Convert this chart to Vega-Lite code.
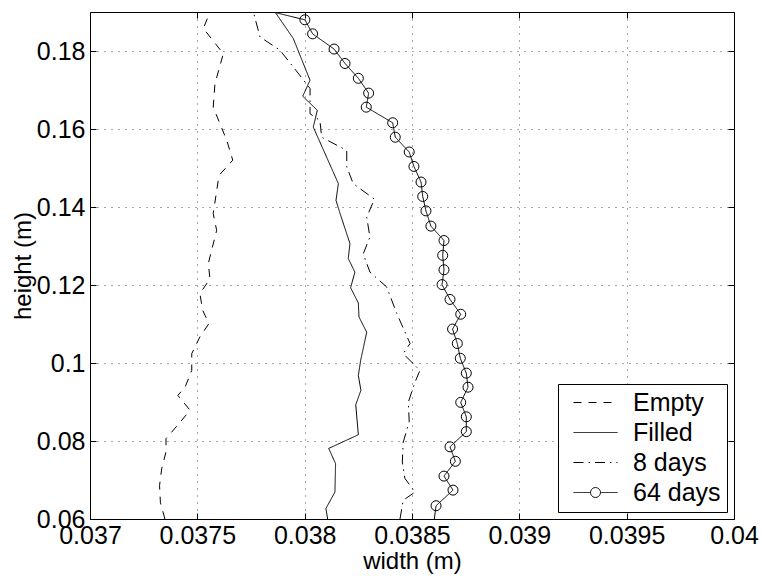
{
  "$schema": "https://vega.github.io/schema/vega-lite/v6.json",
  "autosize": {"type": "none"},
  "padding": {"left": 90, "top": 12, "right": 28, "bottom": 61},
  "width": 644,
  "height": 507,
  "background": "white",
  "config": {
    "view": {"stroke": "black", "strokeWidth": 1},
    "font": "Liberation Sans",
    "axis": {
      "labelFont": "Liberation Sans",
      "labelFontSize": 25,
      "labelColor": "black",
      "titleFont": "Liberation Sans",
      "titleFontSize": 24,
      "titleFontWeight": "normal",
      "titleColor": "black",
      "domain": false,
      "tickColor": "black",
      "gridColor": "black",
      "gridOpacity": 0.7,
      "gridDash": [1, 6],
      "gridWidth": 1
    }
  },
  "data": {
    "values": [
      {"series": "Empty", "h": 0.19, "w": 0.037559, "m": false},
      {"series": "Empty", "h": 0.1858, "w": 0.037528, "m": false},
      {"series": "Empty", "h": 0.1793, "w": 0.037621, "m": false},
      {"series": "Empty", "h": 0.1716, "w": 0.037582, "m": false},
      {"series": "Empty", "h": 0.1656, "w": 0.037574, "m": false},
      {"series": "Empty", "h": 0.1571, "w": 0.037637, "m": false},
      {"series": "Empty", "h": 0.152, "w": 0.037665, "m": false},
      {"series": "Empty", "h": 0.1481, "w": 0.037601, "m": false},
      {"series": "Empty", "h": 0.1383, "w": 0.037574, "m": false},
      {"series": "Empty", "h": 0.134, "w": 0.03759, "m": false},
      {"series": "Empty", "h": 0.1255, "w": 0.037551, "m": false},
      {"series": "Empty", "h": 0.1216, "w": 0.037559, "m": false},
      {"series": "Empty", "h": 0.1178, "w": 0.037512, "m": false},
      {"series": "Empty", "h": 0.1135, "w": 0.037525, "m": false},
      {"series": "Empty", "h": 0.1101, "w": 0.037554, "m": false},
      {"series": "Empty", "h": 0.1067, "w": 0.037512, "m": false},
      {"series": "Empty", "h": 0.1024, "w": 0.037474, "m": false},
      {"series": "Empty", "h": 0.0981, "w": 0.037474, "m": false},
      {"series": "Empty", "h": 0.0938, "w": 0.037443, "m": false},
      {"series": "Empty", "h": 0.0917, "w": 0.037409, "m": false},
      {"series": "Empty", "h": 0.0879, "w": 0.037466, "m": false},
      {"series": "Empty", "h": 0.0845, "w": 0.037415, "m": false},
      {"series": "Empty", "h": 0.0806, "w": 0.037354, "m": false},
      {"series": "Empty", "h": 0.0772, "w": 0.037354, "m": false},
      {"series": "Empty", "h": 0.0729, "w": 0.037334, "m": false},
      {"series": "Empty", "h": 0.0686, "w": 0.037324, "m": false},
      {"series": "Empty", "h": 0.0642, "w": 0.037328, "m": false},
      {"series": "Empty", "h": 0.06, "w": 0.037349, "m": false},

      {"series": "Filled", "h": 0.19, "w": 0.037862, "m": false},
      {"series": "Filled", "h": 0.1832, "w": 0.037947, "m": false},
      {"series": "Filled", "h": 0.1725, "w": 0.038025, "m": false},
      {"series": "Filled", "h": 0.1684, "w": 0.037991, "m": false},
      {"series": "Filled", "h": 0.1648, "w": 0.038059, "m": false},
      {"series": "Filled", "h": 0.1605, "w": 0.03804, "m": false},
      {"series": "Filled", "h": 0.146, "w": 0.038157, "m": false},
      {"series": "Filled", "h": 0.1417, "w": 0.038146, "m": false},
      {"series": "Filled", "h": 0.1383, "w": 0.038165, "m": false},
      {"series": "Filled", "h": 0.1306, "w": 0.038211, "m": false},
      {"series": "Filled", "h": 0.1268, "w": 0.038203, "m": false},
      {"series": "Filled", "h": 0.1233, "w": 0.038234, "m": false},
      {"series": "Filled", "h": 0.1193, "w": 0.038214, "m": false},
      {"series": "Filled", "h": 0.1154, "w": 0.03825, "m": false},
      {"series": "Filled", "h": 0.1118, "w": 0.038253, "m": false},
      {"series": "Filled", "h": 0.1079, "w": 0.038289, "m": false},
      {"series": "Filled", "h": 0.1007, "w": 0.038261, "m": false},
      {"series": "Filled", "h": 0.0968, "w": 0.03825, "m": false},
      {"series": "Filled", "h": 0.093, "w": 0.038262, "m": false},
      {"series": "Filled", "h": 0.0893, "w": 0.038238, "m": false},
      {"series": "Filled", "h": 0.0816, "w": 0.03825, "m": false},
      {"series": "Filled", "h": 0.0781, "w": 0.038112, "m": false},
      {"series": "Filled", "h": 0.0742, "w": 0.038144, "m": false},
      {"series": "Filled", "h": 0.0669, "w": 0.038141, "m": false},
      {"series": "Filled", "h": 0.0627, "w": 0.038099, "m": false},
      {"series": "Filled", "h": 0.06, "w": 0.038107, "m": false},

      {"series": "8 days", "h": 0.19, "w": 0.037761, "m": false},
      {"series": "8 days", "h": 0.1836, "w": 0.037792, "m": false},
      {"series": "8 days", "h": 0.1802, "w": 0.037885, "m": false},
      {"series": "8 days", "h": 0.1759, "w": 0.037947, "m": false},
      {"series": "8 days", "h": 0.1704, "w": 0.038025, "m": false},
      {"series": "8 days", "h": 0.1639, "w": 0.038025, "m": false},
      {"series": "8 days", "h": 0.1622, "w": 0.038071, "m": false},
      {"series": "8 days", "h": 0.1579, "w": 0.038079, "m": false},
      {"series": "8 days", "h": 0.1545, "w": 0.038196, "m": false},
      {"series": "8 days", "h": 0.1503, "w": 0.038196, "m": false},
      {"series": "8 days", "h": 0.146, "w": 0.038226, "m": false},
      {"series": "8 days", "h": 0.142, "w": 0.038325, "m": false},
      {"series": "8 days", "h": 0.1374, "w": 0.038289, "m": false},
      {"series": "8 days", "h": 0.1323, "w": 0.038304, "m": false},
      {"series": "8 days", "h": 0.128, "w": 0.038273, "m": false},
      {"series": "8 days", "h": 0.1233, "w": 0.038304, "m": false},
      {"series": "8 days", "h": 0.1195, "w": 0.038382, "m": false},
      {"series": "8 days", "h": 0.1127, "w": 0.038429, "m": false},
      {"series": "8 days", "h": 0.105, "w": 0.038491, "m": false},
      {"series": "8 days", "h": 0.1024, "w": 0.038459, "m": false},
      {"series": "8 days", "h": 0.0981, "w": 0.038537, "m": false},
      {"series": "8 days", "h": 0.0951, "w": 0.038514, "m": false},
      {"series": "8 days", "h": 0.09, "w": 0.038483, "m": false},
      {"series": "8 days", "h": 0.0849, "w": 0.038487, "m": false},
      {"series": "8 days", "h": 0.0797, "w": 0.038459, "m": false},
      {"series": "8 days", "h": 0.0746, "w": 0.038455, "m": false},
      {"series": "8 days", "h": 0.0704, "w": 0.038467, "m": false},
      {"series": "8 days", "h": 0.0669, "w": 0.038514, "m": false},
      {"series": "8 days", "h": 0.0648, "w": 0.038459, "m": false},
      {"series": "8 days", "h": 0.06, "w": 0.038444, "m": false},

      {"series": "64 days", "h": 0.19, "w": 0.037852, "m": false},
      {"series": "64 days", "h": 0.188, "w": 0.038001, "m": true},
      {"series": "64 days", "h": 0.1844, "w": 0.038037, "m": true},
      {"series": "64 days", "h": 0.1805, "w": 0.038137, "m": true},
      {"series": "64 days", "h": 0.1768, "w": 0.038188, "m": true},
      {"series": "64 days", "h": 0.173, "w": 0.03825, "m": true},
      {"series": "64 days", "h": 0.1692, "w": 0.038298, "m": true},
      {"series": "64 days", "h": 0.1656, "w": 0.038287, "m": true},
      {"series": "64 days", "h": 0.1616, "w": 0.03841, "m": true},
      {"series": "64 days", "h": 0.1579, "w": 0.038422, "m": true},
      {"series": "64 days", "h": 0.1541, "w": 0.038487, "m": true},
      {"series": "64 days", "h": 0.1504, "w": 0.038509, "m": true},
      {"series": "64 days", "h": 0.1464, "w": 0.038542, "m": true},
      {"series": "64 days", "h": 0.1427, "w": 0.03855, "m": true},
      {"series": "64 days", "h": 0.139, "w": 0.038565, "m": true},
      {"series": "64 days", "h": 0.1351, "w": 0.038588, "m": true},
      {"series": "64 days", "h": 0.1314, "w": 0.038649, "m": true},
      {"series": "64 days", "h": 0.1276, "w": 0.038643, "m": true},
      {"series": "64 days", "h": 0.1239, "w": 0.038649, "m": true},
      {"series": "64 days", "h": 0.1201, "w": 0.03864, "m": true},
      {"series": "64 days", "h": 0.1163, "w": 0.038677, "m": true},
      {"series": "64 days", "h": 0.1125, "w": 0.038727, "m": true},
      {"series": "64 days", "h": 0.1087, "w": 0.038689, "m": true},
      {"series": "64 days", "h": 0.105, "w": 0.038711, "m": true},
      {"series": "64 days", "h": 0.1012, "w": 0.038725, "m": true},
      {"series": "64 days", "h": 0.0974, "w": 0.038753, "m": true},
      {"series": "64 days", "h": 0.0938, "w": 0.038761, "m": true},
      {"series": "64 days", "h": 0.0899, "w": 0.038727, "m": true},
      {"series": "64 days", "h": 0.0862, "w": 0.038753, "m": true},
      {"series": "64 days", "h": 0.0824, "w": 0.038753, "m": true},
      {"series": "64 days", "h": 0.0785, "w": 0.038677, "m": true},
      {"series": "64 days", "h": 0.0748, "w": 0.038702, "m": true},
      {"series": "64 days", "h": 0.071, "w": 0.038649, "m": true},
      {"series": "64 days", "h": 0.0674, "w": 0.038691, "m": true},
      {"series": "64 days", "h": 0.0634, "w": 0.038612, "m": true},
      {"series": "64 days", "h": 0.06, "w": 0.038604, "m": false}
    ]
  },
  "layer": [
    {
      "mark": {"type": "line", "color": "black", "strokeWidth": 1, "clip": true},
      "encoding": {
        "x": {
          "field": "w", "type": "quantitative",
          "scale": {"domain": [0.037, 0.04], "nice": false, "zero": false},
          "axis": {
            "title": "width (m)",
            "values": [0.037, 0.0375, 0.038, 0.0385, 0.039, 0.0395, 0.04],
            "format": "~g",
            "tickSize": -6,
            "labelPadding": 10,
            "titlePadding": 1,
            "grid": true,
            "labelFlush": false,
            "labelOverlap": false
          }
        },
        "y": {
          "field": "h", "type": "quantitative",
          "scale": {"domain": [0.06, 0.19], "nice": false, "zero": false},
          "axis": {
            "title": "height (m)",
            "values": [0.06, 0.08, 0.1, 0.12, 0.14, 0.16, 0.18],
            "format": "~g",
            "tickSize": -6,
            "labelPadding": 11,
            "titlePadding": 1,
            "grid": true,
            "labelFlush": false,
            "labelOverlap": false
          }
        },
        "order": {"field": "h", "type": "quantitative"},
        "detail": {"field": "series"},
        "strokeDash": {
          "field": "series", "type": "nominal",
          "scale": {
            "domain": ["Empty", "Filled", "8 days", "64 days"],
            "range": [[8, 7], [1, 0], [10, 5, 1.5, 5], [1, 0]]
          },
          "legend": {
            "title": null,
            "orient": "bottom-right",
            "offset": 7,
            "padding": 6,
            "rowPadding": 4,
            "symbolSize": 484,
            "symbolStrokeColor": "black",
            "symbolStrokeWidth": 1,
            "symbolOffset": 19,
            "labelOffset": 25,
            "labelFont": "Liberation Sans",
            "labelFontSize": 25,
            "labelColor": "black",
            "strokeColor": "black",
            "fillColor": "white",
            "cornerRadius": 0,
            "encode": {
              "symbols": {
                "update": {
                  "shape": {"signal": "datum.value === '64 days' ? 'M-2,0H-0.45M0.45,0H2M-0.45,0A0.45,0.45 0 1,0 0.45,0A0.45,0.45 0 1,0 -0.45,0' : 'M-2,0H2'"},
                  "fill": {"value": "transparent"},
                  "stroke": {"value": "black"}
                }
              }
            }
          }
        }
      }
    },
    {
      "transform": [{"filter": "datum.m"}],
      "mark": {"type": "point", "shape": "circle", "filled": false, "size": 100, "color": "black", "strokeWidth": 1, "opacity": 1},
      "encoding": {
        "x": {
          "field": "w", "type": "quantitative",
          "axis": {
            "orient": "top", "title": null, "labels": false, "grid": false,
            "values": [0.037, 0.0375, 0.038, 0.0385, 0.039, 0.0395, 0.04],
            "tickSize": -6
          }
        },
        "y": {
          "field": "h", "type": "quantitative",
          "axis": {
            "orient": "right", "title": null, "labels": false, "grid": false,
            "values": [0.06, 0.08, 0.1, 0.12, 0.14, 0.16, 0.18],
            "tickSize": -6
          }
        }
      }
    }
  ],
  "resolve": {"axis": {"x": "independent", "y": "independent"}}
}
